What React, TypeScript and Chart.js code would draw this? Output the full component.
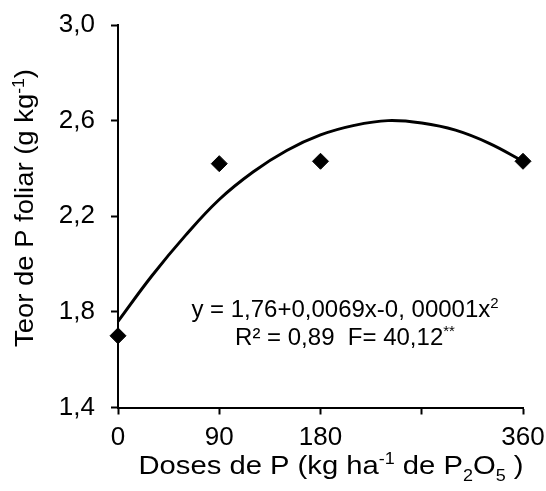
import React, { useEffect, useRef } from 'react';
import { Chart, registerables } from 'chart.js';

Chart.register(...registerables);

// Observed data (Doses de P vs Teor de P foliar)
const doses = [0, 90, 180, 360];
const teorP = [1.7, 2.42, 2.43, 2.43];

// Fitted curve
const curveX = [0, 30, 60, 90, 120, 150, 180, 210, 240, 270, 300, 330, 360];
const curveY = [1.76, 1.95, 2.12, 2.27, 2.385, 2.475, 2.54, 2.58, 2.6, 2.59, 2.56, 2.505, 2.43];

// Axis ticks
const xTickValues = [0, 90, 180, 270, 360];
const xTickLabels = ['0', '90', '180', '', '360'];
const yTickValues = [1.4, 1.8, 2.2, 2.6, 3.0];

const FONT = '"Liberation Sans", Arial, Helvetica, sans-serif';

type Seg = { t: string; s?: 'sup' | 'sub' };

const xTitle: Seg[] = [
  { t: 'Doses de P (kg ha' },
  { t: '-1', s: 'sup' },
  { t: ' de P' },
  { t: '2', s: 'sub' },
  { t: 'O' },
  { t: '5', s: 'sub' },
  { t: ' )' },
];
const yTitle: Seg[] = [{ t: 'Teor de P foliar (g kg' }, { t: '-1', s: 'sup' }, { t: ')' }];
const eqLine1: Seg[] = [{ t: 'y = 1,76+0,0069x-0, 00001x' }, { t: '2', s: 'sup' }];
const eqLine2: Seg[] = [{ t: 'R² = 0,89  F= 40,12' }, { t: '**', s: 'sup' }];

function drawRich(
  ctx: CanvasRenderingContext2D,
  segs: Seg[],
  x: number,
  y: number,
  size: number,
  targetWidth?: number
) {
  const small = Math.round(size * 0.62);
  const f = (sz: number) => `${sz}px ${FONT}`;
  let w = 0;
  for (const s of segs) {
    ctx.font = s.s ? f(small) : f(size);
    w += ctx.measureText(s.t).width;
  }
  const sx = targetWidth ? targetWidth / w : 1;
  ctx.save();
  ctx.translate(x, y);
  ctx.scale(sx, 1);
  let cx = -w / 2;
  ctx.textAlign = 'left';
  ctx.textBaseline = 'alphabetic';
  ctx.fillStyle = '#000';
  for (const s of segs) {
    ctx.font = s.s ? f(small) : f(size);
    const dy = s.s === 'sup' ? -size * 0.36 : s.s === 'sub' ? size * 0.3 : 0;
    ctx.fillText(s.t, cx, dy);
    cx += ctx.measureText(s.t).width;
  }
  ctx.restore();
}

const textPlugin = {
  id: 'richText',
  afterDraw(chart: any) {
    const ctx = chart.ctx as CanvasRenderingContext2D;
    const a = chart.chartArea;
    ctx.save();
    // x-axis title
    drawRich(ctx, xTitle, a.left + 213, a.bottom + 66, 26, 385);
    // y-axis title
    ctx.save();
    ctx.translate(33, a.top + 183);
    ctx.rotate(-Math.PI / 2);
    drawRich(ctx, yTitle, 0, 0, 25, 278);
    ctx.restore();
    // equation
    drawRich(ctx, eqLine1, a.left + 227, a.top + 292, 24);
    drawRich(ctx, eqLine2, a.left + 227, a.top + 320, 24);
    ctx.restore();
  },
};

export default function App() {
  const ref = useRef<HTMLCanvasElement>(null);

  useEffect(() => {
    if (!ref.current) return;
    const chart = new Chart(ref.current, {
      type: 'scatter',
      data: {
        datasets: [
          {
            label: 'Ajuste',
            data: curveX.map((x, i) => ({ x, y: curveY[i] })),
            showLine: true,
            borderColor: '#000',
            borderWidth: 3,
            pointRadius: 0,
            tension: 0.4,
            fill: false,
            clip: false,
          },
          {
            label: 'Teor de P',
            data: doses.map((x, i) => ({ x, y: teorP[i] })),
            showLine: false,
            pointStyle: 'rectRot',
            pointRadius: 8,
            backgroundColor: '#000',
            borderColor: '#000',
            borderWidth: 1,
            clip: false,
          },
        ],
      },
      options: {
        responsive: false,
        animation: false,
        devicePixelRatio: 1,
        layout: { padding: { top: 25, right: 23, left: 0, bottom: 0 } },
        plugins: {
          legend: { display: false },
          tooltip: { enabled: false },
        },
        scales: {
          x: {
            type: 'linear',
            min: 0,
            max: 360,
            afterBuildTicks: (s: any) => {
              s.ticks = xTickValues.map((v) => ({ value: v }));
            },
            afterFit: (s: any) => {
              s.height = 83.5;
              s.paddingLeft = 0;
              s.paddingRight = 0;
            },
            ticks: {
              color: '#000',
              font: { family: FONT, size: 26 },
              padding: 8,
              maxRotation: 0,
              autoSkip: false,
              callback: (v: any) => {
                const i = xTickValues.indexOf(Number(v));
                return i >= 0 ? xTickLabels[i] : '';
              },
            },
            grid: {
              drawOnChartArea: false,
              drawTicks: true,
              tickLength: 7,
              tickColor: '#000',
              tickWidth: 2,
            },
            border: { display: true, color: '#000', width: 2 },
          },
          y: {
            type: 'linear',
            min: 1.4,
            max: 3.0,
            afterBuildTicks: (s: any) => {
              s.ticks = yTickValues.map((v) => ({ value: v }));
            },
            afterFit: (s: any) => {
              s.width = 118;
              s.paddingTop = 0;
              s.paddingBottom = 0;
            },
            ticks: {
              color: '#000',
              font: { family: FONT, size: 26 },
              padding: 16,
              autoSkip: false,
              callback: (v: any) => Number(v).toFixed(1).replace('.', ','),
            },
            grid: {
              drawOnChartArea: false,
              drawTicks: true,
              tickLength: 7,
              tickColor: '#000',
              tickWidth: 2,
            },
            border: { display: true, color: '#000', width: 2 },
          },
        },
      },
      plugins: [textPlugin],
    } as any);
    return () => chart.destroy();
  }, []);

  return (
    <div style={{ position: 'absolute', left: 0, top: 0, width: 546, height: 491, background: '#fff' }}>
      <canvas ref={ref} width={546} height={491} />
    </div>
  );
}
